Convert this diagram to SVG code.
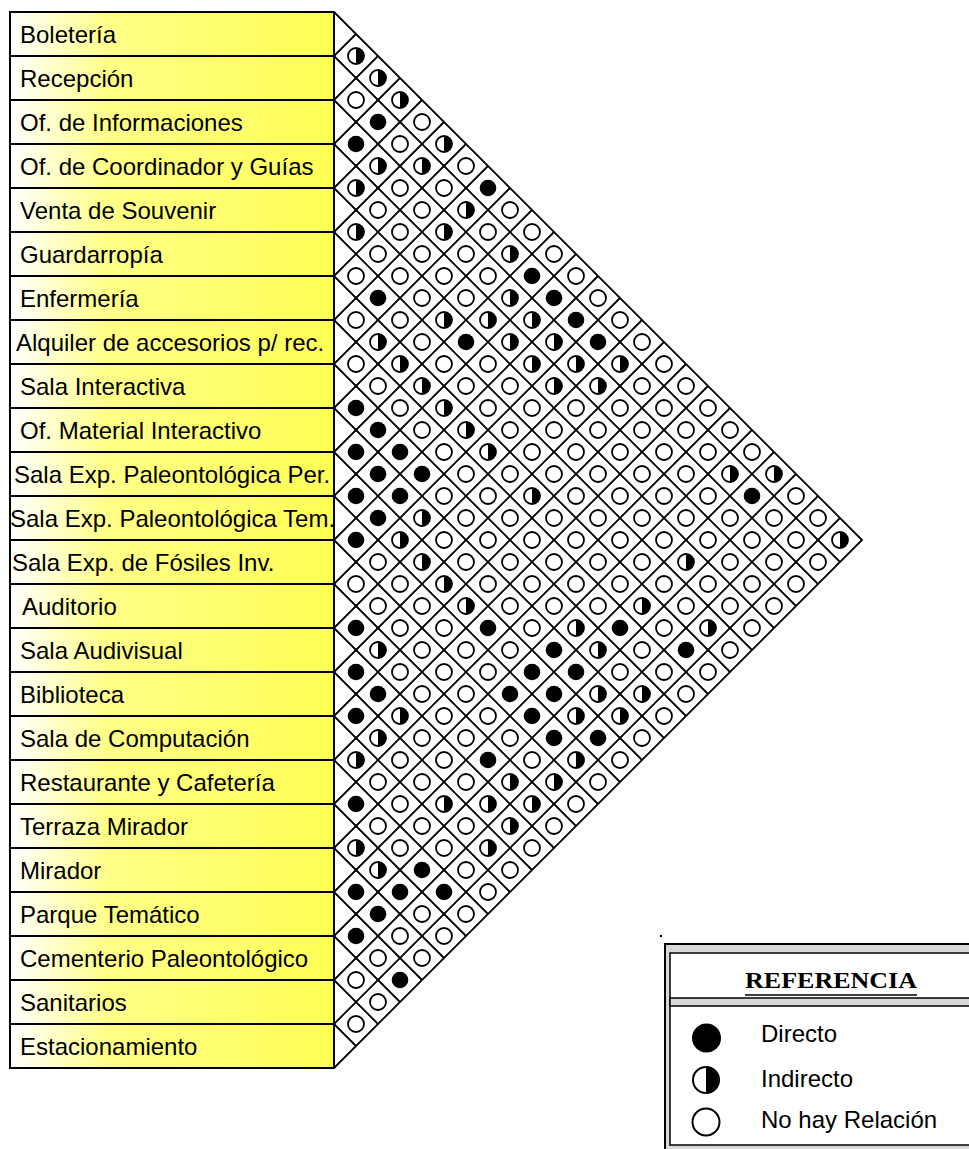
<svg xmlns="http://www.w3.org/2000/svg" xmlns:xlink="http://www.w3.org/1999/xlink" width="969" height="1149" viewBox="0 0 969 1149">
<style>
.lbl rect{fill:url(#yg);stroke:#000;stroke-width:2}
.lbl text{font-family:"Liberation Sans",Arial,sans-serif;font-size:24px;fill:#000}
.grid{fill:none;stroke:#000;stroke-width:1.8}
.leg{font-family:"Liberation Sans",Arial,sans-serif;font-size:24px;fill:#000}
</style>
<defs>
<linearGradient id="yg" x1="0" y1="0" x2="1" y2="0">
<stop offset="0" stop-color="#ffffff"/>
<stop offset="0.3" stop-color="#ffff88"/>
<stop offset="1" stop-color="#ffff55"/>
</linearGradient>
<circle id="f" r="8.3" fill="#000"/>
<circle id="e" r="8" fill="#fff" stroke="#000" stroke-width="1.8"/>
<g id="h"><circle r="8" fill="#fff" stroke="#000" stroke-width="1.8"/><path d="M0,-8A8,8 0 0 1 0,8Z" fill="#000"/></g>
</defs>
<rect width="969" height="1149" fill="#fff"/>

<g id="labels">
<g id="n0" class="lbl"><rect x="10" y="12" width="324" height="44"/><text x="20" y="43">Boletería</text></g>
<g id="n1" class="lbl"><rect x="10" y="56" width="324" height="44"/><text x="20" y="87">Recepción</text></g>
<g id="n2" class="lbl"><rect x="10" y="100" width="324" height="44"/><text x="20" y="131">Of. de Informaciones</text></g>
<g id="n3" class="lbl"><rect x="10" y="144" width="324" height="44"/><text x="20" y="175">Of. de Coordinador y Guías</text></g>
<g id="n4" class="lbl"><rect x="10" y="188" width="324" height="44"/><text x="20" y="219">Venta de Souvenir</text></g>
<g id="n5" class="lbl"><rect x="10" y="232" width="324" height="44"/><text x="20" y="263">Guardarropía</text></g>
<g id="n6" class="lbl"><rect x="10" y="276" width="324" height="44"/><text x="20" y="307">Enfermería</text></g>
<g id="n7" class="lbl"><rect x="10" y="320" width="324" height="44"/><text x="16" y="351">Alquiler de accesorios p/ rec.</text></g>
<g id="n8" class="lbl"><rect x="10" y="364" width="324" height="44"/><text x="20" y="395">Sala Interactiva</text></g>
<g id="n9" class="lbl"><rect x="10" y="408" width="324" height="44"/><text x="20" y="439">Of. Material Interactivo</text></g>
<g id="n10" class="lbl"><rect x="10" y="452" width="324" height="44"/><text x="14" y="483">Sala Exp. Paleontológica Per.</text></g>
<g id="n11" class="lbl"><rect x="10" y="496" width="324" height="44"/><text x="10" y="527">Sala Exp. Paleontológica Tem.</text></g>
<g id="n12" class="lbl"><rect x="10" y="540" width="324" height="44"/><text x="12" y="571">Sala Exp. de Fósiles Inv.</text></g>
<g id="n13" class="lbl"><rect x="10" y="584" width="324" height="44"/><text x="22" y="615">Auditorio</text></g>
<g id="n14" class="lbl"><rect x="10" y="628" width="324" height="44"/><text x="20" y="659">Sala Audivisual</text></g>
<g id="n15" class="lbl"><rect x="10" y="672" width="324" height="44"/><text x="20" y="703">Biblioteca</text></g>
<g id="n16" class="lbl"><rect x="10" y="716" width="324" height="44"/><text x="20" y="747">Sala de Computación</text></g>
<g id="n17" class="lbl"><rect x="10" y="760" width="324" height="44"/><text x="20" y="791">Restaurante y Cafetería</text></g>
<g id="n18" class="lbl"><rect x="10" y="804" width="324" height="44"/><text x="20" y="835">Terraza Mirador</text></g>
<g id="n19" class="lbl"><rect x="10" y="848" width="324" height="44"/><text x="20" y="879">Mirador</text></g>
<g id="n20" class="lbl"><rect x="10" y="892" width="324" height="44"/><text x="20" y="923">Parque Temático</text></g>
<g id="n21" class="lbl"><rect x="10" y="936" width="324" height="44"/><text x="20" y="967">Cementerio Paleontológico</text></g>
<g id="n22" class="lbl"><rect x="10" y="980" width="324" height="44"/><text x="20" y="1011">Sanitarios</text></g>
<g id="n23" class="lbl"><rect x="10" y="1024" width="324" height="44"/><text x="20" y="1055">Estacionamiento</text></g>
</g>

<g id="connectors" class="grid">
<path d="M334,12L862,540L334,1068"/>
<path d="M334,56l506,506M334,100l484,484M334,144l462,462M334,188l440,440M334,232l418,418M334,276l396,396M334,320l374,374M334,364l352,352M334,408l330,330M334,452l308,308M334,496l286,286M334,540l264,264M334,584l242,242M334,628l220,220M334,672l198,198M334,716l176,176M334,760l154,154M334,804l132,132M334,848l110,110M334,892l88,88M334,936l66,66M334,980l44,44M334,1024l22,22"/>
<path d="M334,56l22,-22M334,100l44,-44M334,144l66,-66M334,188l88,-88M334,232l110,-110M334,276l132,-132M334,320l154,-154M334,364l176,-176M334,408l198,-198M334,452l220,-220M334,496l242,-242M334,540l264,-264M334,584l286,-286M334,628l308,-308M334,672l330,-330M334,716l352,-352M334,760l374,-374M334,804l396,-396M334,848l418,-418M334,892l440,-440M334,936l462,-462M334,980l484,-484M334,1024l506,-506"/>
</g>

<g id="matrix">
<g id="r0">
<use href="#h" x="356" y="56"/><use href="#h" x="378" y="78"/><use href="#h" x="400" y="100"/><use href="#e" x="422" y="122"/><use href="#h" x="444" y="144"/><use href="#e" x="466" y="166"/><use href="#f" x="488" y="188"/><use href="#e" x="510" y="210"/><use href="#e" x="532" y="232"/><use href="#e" x="554" y="254"/><use href="#e" x="576" y="276"/><use href="#e" x="598" y="298"/><use href="#e" x="620" y="320"/><use href="#e" x="642" y="342"/><use href="#e" x="664" y="364"/><use href="#e" x="686" y="386"/><use href="#e" x="708" y="408"/><use href="#e" x="730" y="430"/><use href="#e" x="752" y="452"/><use href="#h" x="774" y="474"/><use href="#e" x="796" y="496"/><use href="#e" x="818" y="518"/><use href="#h" x="840" y="540"/>
</g>
<g id="r1" transform="translate(0,44)">
<use href="#e" x="356" y="56"/><use href="#f" x="378" y="78"/><use href="#e" x="400" y="100"/><use href="#h" x="422" y="122"/><use href="#e" x="444" y="144"/><use href="#h" x="466" y="166"/><use href="#e" x="488" y="188"/><use href="#h" x="510" y="210"/><use href="#f" x="532" y="232"/><use href="#f" x="554" y="254"/><use href="#f" x="576" y="276"/><use href="#f" x="598" y="298"/><use href="#h" x="620" y="320"/><use href="#e" x="642" y="342"/><use href="#e" x="664" y="364"/><use href="#e" x="686" y="386"/><use href="#e" x="708" y="408"/><use href="#h" x="730" y="430"/><use href="#f" x="752" y="452"/><use href="#e" x="774" y="474"/><use href="#e" x="796" y="496"/><use href="#e" x="818" y="518"/>
</g>
<g id="r2" transform="translate(0,88)">
<use href="#f" x="356" y="56"/><use href="#h" x="378" y="78"/><use href="#e" x="400" y="100"/><use href="#e" x="422" y="122"/><use href="#h" x="444" y="144"/><use href="#e" x="466" y="166"/><use href="#e" x="488" y="188"/><use href="#h" x="510" y="210"/><use href="#h" x="532" y="232"/><use href="#h" x="554" y="254"/><use href="#h" x="576" y="276"/><use href="#h" x="598" y="298"/><use href="#e" x="620" y="320"/><use href="#e" x="642" y="342"/><use href="#e" x="664" y="364"/><use href="#e" x="686" y="386"/><use href="#e" x="708" y="408"/><use href="#e" x="730" y="430"/><use href="#e" x="752" y="452"/><use href="#e" x="774" y="474"/><use href="#e" x="796" y="496"/>
</g>
<g id="r3" transform="translate(0,132)">
<use href="#h" x="356" y="56"/><use href="#e" x="378" y="78"/><use href="#e" x="400" y="100"/><use href="#e" x="422" y="122"/><use href="#e" x="444" y="144"/><use href="#e" x="466" y="166"/><use href="#h" x="488" y="188"/><use href="#h" x="510" y="210"/><use href="#h" x="532" y="232"/><use href="#h" x="554" y="254"/><use href="#e" x="576" y="276"/><use href="#e" x="598" y="298"/><use href="#e" x="620" y="320"/><use href="#e" x="642" y="342"/><use href="#e" x="664" y="364"/><use href="#e" x="686" y="386"/><use href="#e" x="708" y="408"/><use href="#e" x="730" y="430"/><use href="#e" x="752" y="452"/><use href="#e" x="774" y="474"/>
</g>
<g id="r4" transform="translate(0,176)">
<use href="#h" x="356" y="56"/><use href="#e" x="378" y="78"/><use href="#e" x="400" y="100"/><use href="#e" x="422" y="122"/><use href="#h" x="444" y="144"/><use href="#f" x="466" y="166"/><use href="#e" x="488" y="188"/><use href="#e" x="510" y="210"/><use href="#e" x="532" y="232"/><use href="#e" x="554" y="254"/><use href="#e" x="576" y="276"/><use href="#e" x="598" y="298"/><use href="#e" x="620" y="320"/><use href="#e" x="642" y="342"/><use href="#e" x="664" y="364"/><use href="#h" x="686" y="386"/><use href="#e" x="708" y="408"/><use href="#e" x="730" y="430"/><use href="#e" x="752" y="452"/>
</g>
<g id="r5" transform="translate(0,220)">
<use href="#e" x="356" y="56"/><use href="#f" x="378" y="78"/><use href="#e" x="400" y="100"/><use href="#e" x="422" y="122"/><use href="#e" x="444" y="144"/><use href="#e" x="466" y="166"/><use href="#e" x="488" y="188"/><use href="#e" x="510" y="210"/><use href="#e" x="532" y="232"/><use href="#e" x="554" y="254"/><use href="#e" x="576" y="276"/><use href="#e" x="598" y="298"/><use href="#e" x="620" y="320"/><use href="#e" x="642" y="342"/><use href="#e" x="664" y="364"/><use href="#e" x="686" y="386"/><use href="#h" x="708" y="408"/><use href="#e" x="730" y="430"/>
</g>
<g id="r6" transform="translate(0,264)">
<use href="#e" x="356" y="56"/><use href="#h" x="378" y="78"/><use href="#h" x="400" y="100"/><use href="#h" x="422" y="122"/><use href="#h" x="444" y="144"/><use href="#h" x="466" y="166"/><use href="#h" x="488" y="188"/><use href="#e" x="510" y="210"/><use href="#h" x="532" y="232"/><use href="#e" x="554" y="254"/><use href="#e" x="576" y="276"/><use href="#e" x="598" y="298"/><use href="#e" x="620" y="320"/><use href="#h" x="642" y="342"/><use href="#e" x="664" y="364"/><use href="#f" x="686" y="386"/><use href="#e" x="708" y="408"/>
</g>
<g id="r7" transform="translate(0,308)">
<use href="#e" x="356" y="56"/><use href="#e" x="378" y="78"/><use href="#e" x="400" y="100"/><use href="#e" x="422" y="122"/><use href="#e" x="444" y="144"/><use href="#e" x="466" y="166"/><use href="#e" x="488" y="188"/><use href="#e" x="510" y="210"/><use href="#e" x="532" y="232"/><use href="#e" x="554" y="254"/><use href="#e" x="576" y="276"/><use href="#e" x="598" y="298"/><use href="#f" x="620" y="320"/><use href="#e" x="642" y="342"/><use href="#e" x="664" y="364"/><use href="#e" x="686" y="386"/>
</g>
<g id="r8" transform="translate(0,352)">
<use href="#f" x="356" y="56"/><use href="#f" x="378" y="78"/><use href="#f" x="400" y="100"/><use href="#f" x="422" y="122"/><use href="#e" x="444" y="144"/><use href="#e" x="466" y="166"/><use href="#e" x="488" y="188"/><use href="#e" x="510" y="210"/><use href="#e" x="532" y="232"/><use href="#e" x="554" y="254"/><use href="#h" x="576" y="276"/><use href="#h" x="598" y="298"/><use href="#e" x="620" y="320"/><use href="#h" x="642" y="342"/><use href="#e" x="664" y="364"/>
</g>
<g id="r9" transform="translate(0,396)">
<use href="#f" x="356" y="56"/><use href="#f" x="378" y="78"/><use href="#f" x="400" y="100"/><use href="#h" x="422" y="122"/><use href="#e" x="444" y="144"/><use href="#e" x="466" y="166"/><use href="#e" x="488" y="188"/><use href="#e" x="510" y="210"/><use href="#e" x="532" y="232"/><use href="#f" x="554" y="254"/><use href="#f" x="576" y="276"/><use href="#h" x="598" y="298"/><use href="#h" x="620" y="320"/><use href="#e" x="642" y="342"/>
</g>
<g id="r10" transform="translate(0,440)">
<use href="#f" x="356" y="56"/><use href="#f" x="378" y="78"/><use href="#h" x="400" y="100"/><use href="#h" x="422" y="122"/><use href="#h" x="444" y="144"/><use href="#h" x="466" y="166"/><use href="#f" x="488" y="188"/><use href="#e" x="510" y="210"/><use href="#f" x="532" y="232"/><use href="#f" x="554" y="254"/><use href="#h" x="576" y="276"/><use href="#f" x="598" y="298"/><use href="#e" x="620" y="320"/>
</g>
<g id="r11" transform="translate(0,484)">
<use href="#f" x="356" y="56"/><use href="#e" x="378" y="78"/><use href="#e" x="400" y="100"/><use href="#e" x="422" y="122"/><use href="#e" x="444" y="144"/><use href="#e" x="466" y="166"/><use href="#e" x="488" y="188"/><use href="#f" x="510" y="210"/><use href="#f" x="532" y="232"/><use href="#f" x="554" y="254"/><use href="#h" x="576" y="276"/><use href="#e" x="598" y="298"/>
</g>
<g id="r12" transform="translate(0,528)">
<use href="#e" x="356" y="56"/><use href="#e" x="378" y="78"/><use href="#e" x="400" y="100"/><use href="#e" x="422" y="122"/><use href="#e" x="444" y="144"/><use href="#e" x="466" y="166"/><use href="#e" x="488" y="188"/><use href="#e" x="510" y="210"/><use href="#e" x="532" y="232"/><use href="#h" x="554" y="254"/><use href="#e" x="576" y="276"/>
</g>
<g id="r13" transform="translate(0,572)">
<use href="#f" x="356" y="56"/><use href="#h" x="378" y="78"/><use href="#e" x="400" y="100"/><use href="#e" x="422" y="122"/><use href="#e" x="444" y="144"/><use href="#e" x="466" y="166"/><use href="#f" x="488" y="188"/><use href="#h" x="510" y="210"/><use href="#h" x="532" y="232"/><use href="#e" x="554" y="254"/>
</g>
<g id="r14" transform="translate(0,616)">
<use href="#f" x="356" y="56"/><use href="#f" x="378" y="78"/><use href="#h" x="400" y="100"/><use href="#e" x="422" y="122"/><use href="#e" x="444" y="144"/><use href="#e" x="466" y="166"/><use href="#h" x="488" y="188"/><use href="#h" x="510" y="210"/><use href="#e" x="532" y="232"/>
</g>
<g id="r15" transform="translate(0,660)">
<use href="#f" x="356" y="56"/><use href="#h" x="378" y="78"/><use href="#e" x="400" y="100"/><use href="#e" x="422" y="122"/><use href="#h" x="444" y="144"/><use href="#e" x="466" y="166"/><use href="#h" x="488" y="188"/><use href="#e" x="510" y="210"/>
</g>
<g id="r16" transform="translate(0,704)">
<use href="#h" x="356" y="56"/><use href="#e" x="378" y="78"/><use href="#e" x="400" y="100"/><use href="#e" x="422" y="122"/><use href="#e" x="444" y="144"/><use href="#e" x="466" y="166"/><use href="#e" x="488" y="188"/>
</g>
<g id="r17" transform="translate(0,748)">
<use href="#f" x="356" y="56"/><use href="#e" x="378" y="78"/><use href="#e" x="400" y="100"/><use href="#f" x="422" y="122"/><use href="#f" x="444" y="144"/><use href="#e" x="466" y="166"/>
</g>
<g id="r18" transform="translate(0,792)">
<use href="#h" x="356" y="56"/><use href="#h" x="378" y="78"/><use href="#f" x="400" y="100"/><use href="#e" x="422" y="122"/><use href="#e" x="444" y="144"/>
</g>
<g id="r19" transform="translate(0,836)">
<use href="#f" x="356" y="56"/><use href="#f" x="378" y="78"/><use href="#e" x="400" y="100"/><use href="#e" x="422" y="122"/>
</g>
<g id="r20" transform="translate(0,880)">
<use href="#f" x="356" y="56"/><use href="#e" x="378" y="78"/><use href="#f" x="400" y="100"/>
</g>
<g id="r21" transform="translate(0,924)">
<use href="#e" x="356" y="56"/><use href="#e" x="378" y="78"/>
</g>
<g id="r22" transform="translate(0,968)">
<use href="#e" x="356" y="56"/>
</g>
</g>

<rect x="660" y="935" width="2" height="2" fill="#000"/>

<g id="legend">
<rect x="665" y="944" width="320" height="212" fill="#d8d8d8" stroke="#000" stroke-width="2"/>
<rect x="670" y="953" width="310" height="192" fill="#fff" stroke="#000" stroke-width="1.5"/>
<rect x="670" y="998" width="310" height="8" fill="#d8d8d8" stroke="#000" stroke-width="1.5"/>
<text x="831" y="988" text-anchor="middle" font-family="'Liberation Serif',serif" font-weight="bold" font-size="24" textLength="172" lengthAdjust="spacingAndGlyphs">REFERENCIA</text>
<line x1="745" y1="995" x2="917" y2="995" stroke="#000" stroke-width="1.5"/>
<circle cx="706.5" cy="1038" r="14.5" fill="#000"/>
<circle cx="706" cy="1080" r="13" fill="#fff" stroke="#000" stroke-width="2"/>
<path d="M706,1067A13,13 0 0 1 706,1093Z" fill="#000"/>
<circle cx="706" cy="1122" r="13.5" fill="#fff" stroke="#000" stroke-width="2"/>
<text class="leg" x="761" y="1042">Directo</text>
<text class="leg" x="761" y="1087">Indirecto</text>
<text class="leg" x="761" y="1128">No hay Relación</text>
</g>
</svg>
